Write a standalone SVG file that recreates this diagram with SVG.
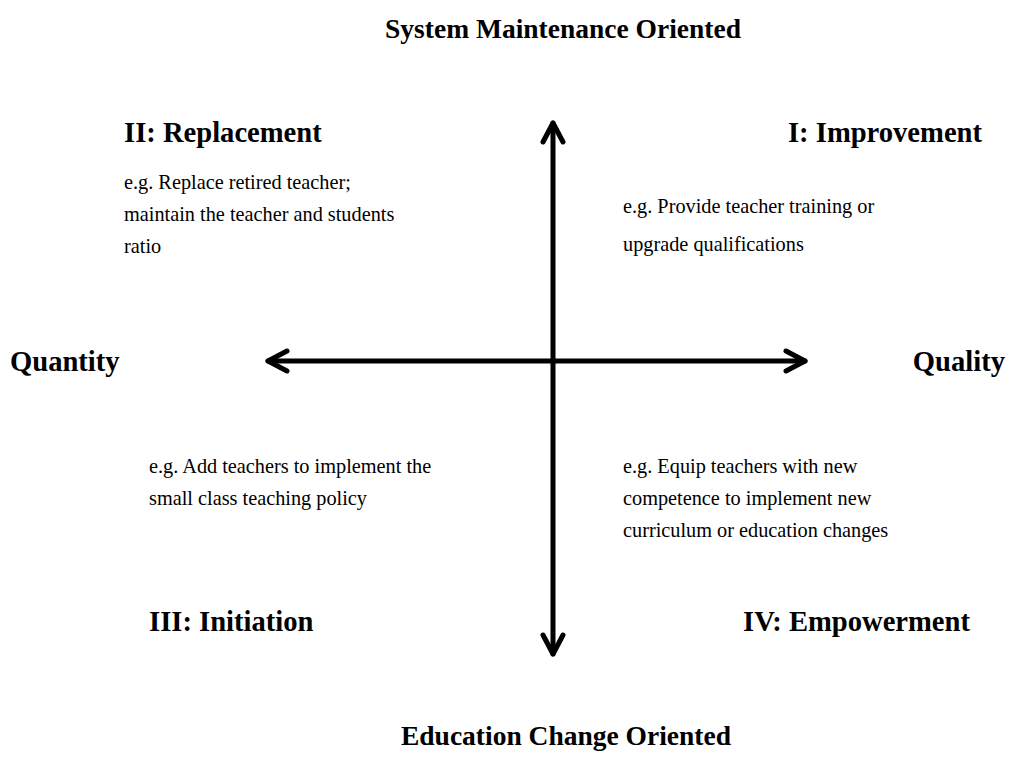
<svg xmlns="http://www.w3.org/2000/svg" width="1010" height="764" viewBox="0 0 1010 764">
<style>
.h{font-family:"Liberation Serif","Times New Roman",serif;font-weight:bold;font-size:27.5px;fill:#000}
.q{font-family:"Liberation Serif","Times New Roman",serif;font-weight:bold;font-size:28.6px;fill:#000}
.b{font-family:"Liberation Serif","Times New Roman",serif;font-size:20.3px;fill:#000}
.ax{fill:none;stroke:#000;stroke-width:5;stroke-linecap:round;stroke-linejoin:round}
</style>
<rect width="1010" height="764" fill="#fff"/>
<g id="connectors">
<line class="ax" x1="553" y1="123" x2="553" y2="654"/>
<line class="ax" x1="268" y1="361" x2="805" y2="361"/>
<polyline class="ax" points="543,142 553,123 563,142"/>
<polyline class="ax" points="543,635 553,654 563,635"/>
<polyline class="ax" points="287,351 268,361 287,371"/>
<polyline class="ax" points="786,351 805,361 786,371"/>
</g>
<g id="top-label"><text class="h" x="563" y="38" text-anchor="middle">System Maintenance Oriented</text></g>
<g id="bottom-label"><text class="h" x="566" y="745" text-anchor="middle">Education Change Oriented</text></g>
<g id="quantity"><text class="q" x="10" y="371">Quantity</text></g>
<g id="quality"><text class="q" x="1005" y="371" text-anchor="end">Quality</text></g>
<g id="q2">
<text class="q" x="124" y="142">II: Replacement</text>
<text class="b" x="124" y="189">e.g. Replace retired teacher;</text>
<text class="b" x="124" y="221">maintain the teacher and students</text>
<text class="b" x="124" y="253">ratio</text>
</g>
<g id="q1">
<text class="q" x="982" y="142" text-anchor="end">I: Improvement</text>
<text class="b" x="623" y="213">e.g. Provide teacher training or</text>
<text class="b" x="623" y="251">upgrade qualifications</text>
</g>
<g id="q3">
<text class="b" x="149" y="473">e.g. Add teachers to implement the</text>
<text class="b" x="149" y="505">small class teaching policy</text>
<text class="q" x="149" y="631">III: Initiation</text>
</g>
<g id="q4">
<text class="b" x="623" y="473">e.g. Equip teachers with new</text>
<text class="b" x="623" y="505">competence to implement new</text>
<text class="b" x="623" y="537">curriculum or education changes</text>
<text class="q" x="970" y="631" text-anchor="end">IV: Empowerment</text>
</g>
</svg>
